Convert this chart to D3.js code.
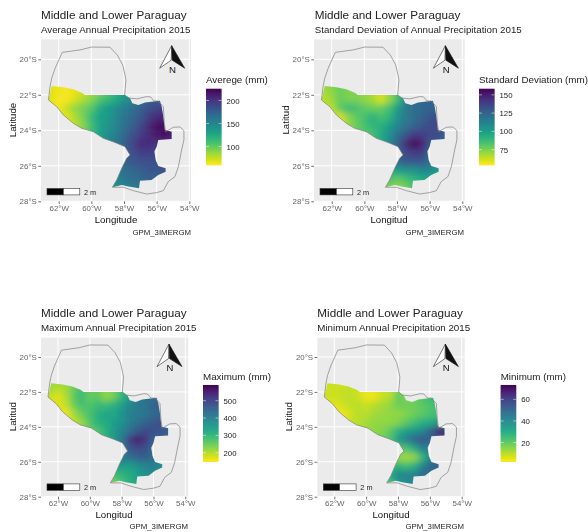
<!DOCTYPE html>
<html>
<head>
<meta charset="utf-8">
<script src="https://cdn.jsdelivr.net/npm/d3@7"></script>
<style>
  html, body { margin: 0; background: #fff; }
  svg { display: block; filter: blur(0.45px); }
  text { font-family: "Liberation Sans", Arial, sans-serif; }
</style>
</head>
<body>
<svg id="chart" width="588" height="532"></svg>
<script>
const _ = null;

// grid nodes, 0.5 degree apart
const lonNodes = [-63, -62.5, -62, -61.5, -61, -60.5, -60, -59.5, -59, -58.5, -58, -57.5, -57, -56.5, -56, -55.5, -55, -54.5];
const latNodes = [-21.25, -21.75, -22.25, -22.75, -23.25, -23.75, -24.25, -24.75, -25.25, -25.75, -26.25, -26.75, -27.25, -27.75];

const averageGrid = [
  [70, 68, 64, 64, 66, 70, 72, _, _, _, _, _, _, _, _, _, _, _],
  [70, 68, 64, 62, 66, 72, 80, 90, 100, 115, 130, 150, 165, 175, 175, 180, _, _],
  [70, 68, 62, 62, 70, 80, 90, 105, 115, 125, 140, 150, 165, 175, 175, 180, 180, _],
  [70, 65, 62, 75, 88, 95, 105, 125, 135, 145, 155, 165, 175, 185, 190, 195, 195, 195],
  [65, 65, 68, 68, 80, 95, 115, 130, 135, 150, 160, 170, 180, 195, 205, 210, 210, 210],
  [_, 65, 68, 68, 78, 90, 110, 130, 140, 150, 165, 175, 190, 205, 220, 220, 220, 220],
  [_, _, _, 70, 80, 95, 115, 130, 145, 155, 170, 185, 195, 205, 215, 220, 210, 210],
  [_, _, _, _, _, _, 120, 135, 150, 160, 175, 190, 205, 205, 200, 205, 205, _],
  [_, _, _, _, _, _, _, _, 150, 165, 180, 185, 195, 195, 190, 190, _, _],
  [_, _, _, _, _, _, _, _, _, 165, 175, 180, 185, 185, 185, 185, _, _],
  [_, _, _, _, _, _, _, _, _, 155, 165, 170, 175, 180, 180, 185, 185, _],
  [_, _, _, _, _, _, _, _, 145, 150, 160, 165, 170, 175, 175, 175, 175, _],
  [_, _, _, _, _, _, _, _, 135, 140, 150, 155, 160, 165, 170, _, _, _],
  [_, _, _, _, _, _, _, _, 135, 140, 150, 155, 160, 165, _, _, _, _]
];

const stdDevGrid = [
  [66, 72, 75, 78, 72, 72, 72, _, _, _, _, _, _, _, _, _, _, _],
  [66, 68, 72, 78, 74, 74, 72, 68, 62, 70, 85, 105, 118, 122, 122, 125, _, _],
  [66, 65, 70, 78, 75, 75, 72, 68, 60, 70, 85, 110, 120, 125, 125, 125, 125, _],
  [62, 62, 65, 80, 88, 85, 80, 78, 78, 85, 100, 115, 122, 122, 125, 125, 125, 125],
  [60, 60, 62, 60, 72, 80, 85, 92, 85, 90, 105, 115, 120, 125, 130, 135, 135, 135],
  [_, 60, 62, 60, 70, 78, 85, 90, 92, 100, 110, 118, 125, 130, 135, 135, 135, 135],
  [_, _, _, 62, 72, 78, 80, 85, 95, 105, 120, 130, 140, 140, 135, 135, 125, 125],
  [_, _, _, _, _, _, 82, 88, 95, 110, 125, 145, 158, 150, 130, 128, 125, _],
  [_, _, _, _, _, _, _, _, 100, 115, 125, 135, 140, 140, 125, 120, _, _],
  [_, _, _, _, _, _, _, _, _, 115, 122, 130, 130, 130, 120, 115, _, _],
  [_, _, _, _, _, _, _, _, _, 95, 100, 105, 105, 110, 110, 100, 100, _],
  [_, _, _, _, _, _, _, _, 82, 85, 80, 85, 90, 95, 95, 95, 95, _],
  [_, _, _, _, _, _, _, _, 72, 75, 70, 75, 85, 85, 85, _, _, _],
  [_, _, _, _, _, _, _, _, 72, 75, 70, 75, 85, 85, _, _, _, _]
];

const maximumGrid = [
  [215, 230, 220, 220, 235, 250, 260, _, _, _, _, _, _, _, _, _, _, _],
  [200, 215, 200, 210, 250, 280, 260, 260, 230, 240, 290, 330, 380, 410, 420, 430, _, _],
  [190, 190, 170, 200, 260, 290, 250, 260, 220, 240, 300, 340, 390, 420, 430, 440, 440, _],
  [175, 170, 170, 190, 250, 280, 270, 290, 290, 310, 340, 390, 410, 430, 450, 450, 450, 450],
  [165, 165, 170, 160, 210, 250, 280, 310, 330, 330, 360, 400, 400, 420, 440, 450, 450, 450],
  [_, 165, 165, 165, 190, 220, 270, 310, 320, 340, 360, 400, 430, 450, 470, 480, 480, 480],
  [_, _, _, 170, 190, 220, 250, 270, 310, 350, 390, 430, 470, 490, 480, 480, 440, 440],
  [_, _, _, _, _, _, 260, 280, 300, 350, 410, 510, 560, 520, 450, 450, 440, _],
  [_, _, _, _, _, _, _, _, 320, 380, 430, 470, 490, 480, 440, 420, _, _],
  [_, _, _, _, _, _, _, _, _, 380, 410, 430, 450, 460, 420, 400, _, _],
  [_, _, _, _, _, _, _, _, _, 330, 350, 340, 370, 390, 400, 370, 370, _],
  [_, _, _, _, _, _, _, _, 280, 290, 300, 320, 340, 370, 370, 360, 360, _],
  [_, _, _, _, _, _, _, _, 220, 230, 280, 310, 330, 340, 350, _, _, _],
  [_, _, _, _, _, _, _, _, 220, 230, 280, 310, 330, 340, _, _, _, _]
];

const minimumGrid = [
  [9, 9, 8, 8, 8, 9, 9, _, _, _, _, _, _, _, _, _, _, _],
  [9, 8, 8, 8, 9, 8, 5, 5, 8, 10, 13, 16, 18, 22, 25, 28, _, _],
  [8, 8, 8, 9, 9, 8, 4, 4, 8, 10, 20, 16, 18, 22, 25, 28, 28, _],
  [6, 6, 5, 7, 9, 10, 8, 10, 12, 14, 18, 18, 18, 20, 22, 25, 25, 25],
  [4, 4, 4, 4, 7, 10, 10, 12, 13, 14, 14, 16, 18, 20, 22, 24, 24, 24],
  [_, 4, 4, 4, 9, 10, 12, 14, 14, 14, 16, 20, 24, 28, 30, 35, 35, 35],
  [_, _, _, 7, 9, 11, 13, 14, 16, 20, 28, 34, 36, 40, 50, 65, 70, 70],
  [_, _, _, _, _, _, 14, 16, 18, 22, 34, 42, 50, 55, 50, 50, 55, _],
  [_, _, _, _, _, _, _, _, 20, 22, 22, 22, 30, 42, 42, 42, _, _],
  [_, _, _, _, _, _, _, _, _, 18, 14, 12, 14, 25, 40, 42, _, _],
  [_, _, _, _, _, _, _, _, _, 25, 28, 25, 28, 40, 52, 50, 50, _],
  [_, _, _, _, _, _, _, _, 22, 30, 40, 42, 42, 50, 45, 45, 45, _],
  [_, _, _, _, _, _, _, _, 18, 22, 35, 38, 38, 38, 40, _, _, _],
  [_, _, _, _, _, _, _, _, 18, 22, 35, 38, 38, 38, _, _, _, _]
];

// outline of the whole country
const countryLon = [-61.78, -60.69, -59.98, -58.86, -58.41, -58.08, -57.94, -57.88, -57.96, -57.73, -57.22, -56.61, -56.37, -56.16, -55.90, -55.59, -55.53, -55.45, -54.98, -54.57, -54.33, -54.33, -54.47, -54.67, -54.88, -55.29, -55.59, -56.00, -56.61, -57.43, -58.04, -58.71, -58.45, -58.14, -57.84, -57.63, -57.94, -58.55, -59.27, -59.88, -60.59, -61.10, -61.71, -62.12, -62.63, -62.53, -62.43, -62.22, -61.78];
const countryLat = [-19.61, -19.47, -19.31, -19.32, -19.76, -20.32, -20.88, -21.16, -22.01, -22.18, -22.23, -22.10, -22.12, -22.35, -22.35, -22.67, -23.61, -24.08, -23.83, -23.81, -24.02, -24.54, -25.11, -26.05, -26.61, -26.89, -27.40, -27.51, -27.59, -27.40, -27.21, -27.21, -26.80, -26.14, -25.58, -25.39, -24.92, -24.69, -24.45, -24.08, -23.89, -23.61, -23.14, -22.67, -22.29, -21.54, -21.07, -20.51, -19.61];

// edge of the middle and lower basin
const basinLon = [-62.43, -61.71, -61.10, -60.59, -60.39, -57.94, -57.63, -57.49, -57.12, -56.71, -56.20, -55.80, -55.69, -55.59, -55.49, -55.08, -55.08, -55.90, -56.00, -56.14, -56.06, -55.90, -55.45, -55.45, -55.90, -56.31, -57.02, -57.08, -57.73, -58.14, -58.71, -58.45, -58.14, -57.84, -57.63, -57.94, -58.55, -59.27, -59.88, -60.59, -61.10, -61.71, -62.12, -62.63];
const basinLat = [-21.50, -21.58, -21.69, -21.88, -22.01, -22.01, -22.20, -22.48, -22.57, -22.44, -22.38, -22.33, -22.67, -23.23, -23.98, -24.08, -24.49, -24.54, -24.92, -25.20, -25.67, -26.01, -26.14, -26.33, -26.52, -26.80, -26.84, -27.27, -27.17, -27.08, -27.21, -26.80, -26.14, -25.58, -25.39, -24.92, -24.69, -24.45, -24.08, -23.89, -23.61, -23.14, -22.67, -22.29];

const lonTicks = [-62, -60, -58, -56, -54];
const latTicks = [-20, -22, -24, -26, -28];

const titleText = 'Middle and Lower Paraguay';
const captionText = 'GPM_3IMERGM';

const averageTicks = [100, 150, 200];
const stdDevTicks = [75, 100, 125, 150];
const maximumTicks = [200, 300, 400, 500];
const minimumTicks = [20, 40, 60];

const panels = [
  { id: 'avg', grid: averageGrid, legendTicks: averageTicks, domain: [60, 225],
    subtitle: 'Average Annual Precipitation 2015', legendTitle: 'Averege (mm)', xTitle: 'Longitude', yTitle: 'Latitude',
    left: 41, right: 191, top: 39.3, bottom: 201.3, lon62: 58.7, lon54: 189.3, lat20: 59.3, lat28: 201.3,
    titleX: 41, titleY: 19, subY: 33, barX: 206, barTop: 89, barBottom: 165, legendY: 83,
    xTitleX: 116, xTitleY: 222.5, yTitleX: 16, yTitleY: 120, capX: 191, capY: 235 },
  { id: 'sd', grid: stdDevGrid, legendTicks: stdDevTicks, domain: [54, 158],
    subtitle: 'Standard Deviation of Annual Precipitation 2015', legendTitle: 'Standard Deviation (mm)', xTitle: 'Longitud', yTitle: 'Latitud',
    left: 314, right: 464.7, top: 39.3, bottom: 201.3, lon62: 331.7, lon54: 462.3, lat20: 59.3, lat28: 201.3,
    titleX: 314.7, titleY: 19, subY: 33, barX: 479, barTop: 89, barBottom: 165, legendY: 83,
    xTitleX: 389, xTitleY: 222.5, yTitleX: 289, yTitleY: 120, capX: 464, capY: 235 },
  { id: 'max', grid: maximumGrid, legendTicks: maximumTicks, domain: [148, 589],
    subtitle: 'Maximum Annual Precipitation 2015', legendTitle: 'Maximum (mm)', xTitle: 'Longitud', yTitle: 'Latitud',
    left: 41, right: 188.3, top: 337.7, bottom: 496.7, lon62: 58, lon54: 185.3, lat20: 357, lat28: 496.7,
    titleX: 41, titleY: 317, subY: 331, barX: 203, barTop: 385.3, barBottom: 461.7, legendY: 380,
    xTitleX: 114, xTitleY: 518, yTitleX: 16, yTitleY: 416.7, capX: 188, capY: 529 },
  { id: 'min', grid: minimumGrid, legendTicks: minimumTicks, domain: [2.3, 73],
    subtitle: 'Minimum Annual Precipitation 2015', legendTitle: 'Minimum (mm)', xTitle: 'Longitud', yTitle: 'Latitud',
    left: 317.3, right: 464.7, top: 337.7, bottom: 496.7, lon62: 334.3, lon54: 461.7, lat20: 357, lat28: 496.7,
    titleX: 317.3, titleY: 317, subY: 331, barX: 500.7, barTop: 385.3, barBottom: 461.7, legendY: 380,
    xTitleX: 391, xTitleY: 518, yTitleX: 292, yTitleY: 416.7, capX: 464, capY: 529 }
];

const svg = d3.select('#chart');
const defs = svg.append('defs');

defs.append('filter')
  .attr('id', 'soften')
  .attr('x', '-10%').attr('y', '-10%').attr('width', '120%').attr('height', '120%')
  .append('feGaussianBlur')
  .attr('stdDeviation', 3);

panels.forEach(drawPanel);

function drawPanel(p) {
  // scales run through the tick positions measured on the picture
  const x = d3.scaleLinear().domain([-62, -54]).range([p.lon62, p.lon54]);
  const y = d3.scaleLinear().domain([-20, -28]).range([p.lat20, p.lat28]);
  const color = d3.scaleSequential(t => d3.interpolateViridis(1 - t)).domain(p.domain);
  const line = d3.line().x(d => x(d[0])).y(d => y(d[1]));

  const g = svg.append('g').attr('class', 'panel-' + p.id);

  g.append('rect')
    .attr('x', p.left).attr('y', p.top)
    .attr('width', p.right - p.left).attr('height', p.bottom - p.top)
    .attr('fill', '#EBEBEB');

  // grille
  g.selectAll('.gx').data(lonTicks).enter().append('line')
    .attr('x1', d => x(d)).attr('x2', d => x(d))
    .attr('y1', p.top).attr('y2', p.bottom)
    .attr('stroke', '#fff').attr('stroke-width', 1);
  g.selectAll('.gy').data(latTicks).enter().append('line')
    .attr('y1', d => y(d)).attr('y2', d => y(d))
    .attr('x1', p.left).attr('x2', p.right)
    .attr('stroke', '#fff').attr('stroke-width', 1);

  // raster, blurred then cut to the basin edge
  const basin = basinLon.map((lon, i) => [lon, basinLat[i]]);
  defs.append('clipPath').attr('id', 'clip-' + p.id)
    .append('path').attr('d', line(basin) + 'Z');

  const cells = [];
  latNodes.forEach((lat, r) => lonNodes.forEach((lon, c) => {
    if (p.grid[r][c] !== null) cells.push({ lon, lat, value: p.grid[r][c] });
  }));

  g.append('g').attr('clip-path', `url(#clip-${p.id})`)
    .append('g').attr('filter', 'url(#soften)')
    .selectAll('rect').data(cells).enter().append('rect')
    .attr('x', d => x(d.lon - 0.25))
    .attr('y', d => y(d.lat + 0.25))
    .attr('width', x(0.5) - x(0) + 0.5)
    .attr('height', y(-0.5) - y(0) + 0.5)
    .attr('fill', d => color(d.value));

  // country outline
  g.append('path')
    .attr('d', line(countryLon.map((lon, i) => [lon, countryLat[i]])))
    .attr('fill', 'none').attr('stroke', '#808080').attr('stroke-width', 0.7);

  drawNorthArrow(g, p);
  drawScaleBar(g, p);

  // axes
  const xAxis = d3.axisBottom(x).tickValues(lonTicks).tickSize(2.7).tickPadding(1.5)
    .tickFormat(d => Math.abs(d) + '°W');
  const yAxis = d3.axisLeft(y).tickValues(latTicks).tickSize(2.7).tickPadding(1.5)
    .tickFormat(d => Math.abs(d) + '°S');

  const gx = g.append('g').attr('transform', `translate(0,${p.bottom})`).call(xAxis);
  const gy = g.append('g').attr('transform', `translate(${p.left},0)`).call(yAxis);
  [gx, gy].forEach(a => {
    a.select('.domain').remove();
    a.selectAll('line').attr('stroke', '#333').attr('stroke-width', 0.7);
    a.selectAll('text').style('fill', '#666').style('font-size', '7.9px');
  });

  // titres
  g.append('text').attr('x', p.titleX).attr('y', p.titleY)
    .style('font-size', '11.7px').style('fill', '#222').text(titleText);
  g.append('text').attr('x', p.titleX).attr('y', p.subY)
    .style('font-size', '9.75px').style('fill', '#222').text(p.subtitle);
  g.append('text').attr('x', p.xTitleX).attr('y', p.xTitleY)
    .style('text-anchor', 'middle').style('font-size', '9.7px').style('fill', '#111').text(p.xTitle);
  g.append('text')
    .attr('transform', `translate(${p.yTitleX},${p.yTitleY}) rotate(-90)`)
    .style('text-anchor', 'middle').style('font-size', '9.7px').style('fill', '#111').text(p.yTitle);
  g.append('text').attr('x', p.capX).attr('y', p.capY)
    .style('text-anchor', 'end').style('font-size', '7.8px').style('fill', '#222').text(captionText);

  drawLegend(g, p, color);
}

function drawNorthArrow(g, p) {
  const a = g.append('g').attr('transform', `translate(${p.right - 19.3},${p.top + 6.4})`);
  a.append('path').attr('d', 'M0,0 L-12,22.5 L-0.5,14.5 Z')
    .attr('fill', '#fff').attr('stroke', '#222').attr('stroke-width', 0.6);
  a.append('path').attr('d', 'M0,0 L13,22.5 L0.5,14.5 Z')
    .attr('fill', '#111').attr('stroke', '#111').attr('stroke-width', 0.6);
  a.append('text').attr('x', 0.8).attr('y', 27)
    .style('text-anchor', 'middle').style('font-size', '9.5px').style('fill', '#111').text('N');
}

function drawScaleBar(g, p) {
  const bx = p.left + 6;
  const by = p.bottom - 12.8;
  g.append('rect').attr('x', bx).attr('y', by).attr('width', 16.4).attr('height', 6.4)
    .attr('fill', '#000').attr('stroke', '#333').attr('stroke-width', 0.6);
  g.append('rect').attr('x', bx + 16.4).attr('y', by).attr('width', 16.4).attr('height', 6.4)
    .attr('fill', '#fff').attr('stroke', '#333').attr('stroke-width', 0.6);
  g.append('text').attr('x', bx + 37).attr('y', by + 6)
    .style('font-size', '7.3px').style('fill', '#222').text('2 m');
}

function drawLegend(g, p, color) {
  const barW = 15.5;
  const ly = d3.scaleLinear().domain(p.domain).range([p.barBottom, p.barTop]);

  g.append('text').attr('x', p.barX).attr('y', p.legendY)
    .style('font-size', '9.8px').style('fill', '#222').text(p.legendTitle);

  const steps = d3.range(p.domain[0], p.domain[1], (p.domain[1] - p.domain[0]) / 76);
  g.selectAll('.bar-step').data(steps).enter().append('rect')
    .attr('x', p.barX).attr('width', barW)
    .attr('y', d => ly(d) - (p.barBottom - p.barTop) / 76 - 0.3)
    .attr('height', (p.barBottom - p.barTop) / 76 + 0.6)
    .attr('fill', d => color(d));

  p.legendTicks.forEach(t => {
    g.append('line').attr('x1', p.barX).attr('x2', p.barX + 3)
      .attr('y1', ly(t)).attr('y2', ly(t)).attr('stroke', '#fff').attr('stroke-width', 0.5);
    g.append('line').attr('x1', p.barX + barW - 3).attr('x2', p.barX + barW)
      .attr('y1', ly(t)).attr('y2', ly(t)).attr('stroke', '#fff').attr('stroke-width', 0.5);
    g.append('text').attr('x', p.barX + barW + 5).attr('y', ly(t) + 3)
      .style('font-size', '7.8px').style('fill', '#222').text(t);
  });
}
</script>
</body>
</html>
